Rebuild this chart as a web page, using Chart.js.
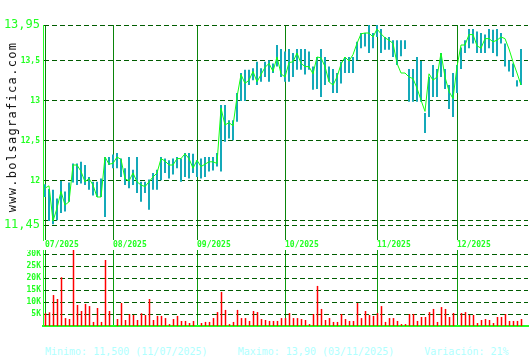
<!DOCTYPE html>
<html><head><meta charset="utf-8">
<script src="https://cdn.jsdelivr.net/npm/chart.js@4/dist/chart.umd.min.js"></script>
<style>
html,body{margin:0;padding:0;background:#fff;}
#wrap{position:relative;width:530px;height:360px;overflow:hidden;background:#fff;}
#price{position:absolute;left:0;top:0;}
#vol{position:absolute;left:0;top:250px;}
#site{position:absolute;left:-87.5px;top:118.7px;width:200px;height:16px;line-height:16px;text-align:center;transform:rotate(-90deg);font:12px 'DejaVu Sans Mono',monospace;letter-spacing:1.3px;color:#111;}
#info{position:absolute;left:45px;top:346px;font:10px 'DejaVu Sans Mono',monospace;color:#b0ffff;white-space:pre;line-height:12px;}
</style></head>
<body><div id="wrap">
<canvas id="price" width="530" height="250"></canvas>
<canvas id="vol" width="530" height="80"></canvas>
<div id="site">www.bolsagrafica.com</div>
<div id="info"></div>
</div>
<script>
const monthLabels = ['07/2025','08/2025','09/2025','10/2025','11/2025','12/2025'];
const monthStart = [0,17,38,60,83,103];
const priceTicks = [11.45,11.5,12,12.5,13,13.5,13.95];
const volTicks = [5000,10000,15000,20000,25000,30000];
const infoText = 'Minimo: 11,500 (11/07/2025)     Maximo: 13,90 (03/11/2025)     Variación: 21%';

const closes = [
11.91,11.94,11.50,11.66,11.87,11.70,11.74,12.20,12.20,12.12,
11.99,12.03,11.95,11.80,11.80,12.30,12.21,12.22,12.30,12.27,
12.03,12.00,12.10,11.99,11.95,11.93,11.99,12.05,12.10,12.28,
12.25,12.20,12.20,12.28,12.28,12.34,12.28,12.16,12.26,12.18,
12.21,12.24,12.24,12.22,12.91,12.70,12.73,12.69,13.05,13.33,
13.22,13.26,13.37,13.24,13.33,13.42,13.47,13.37,13.55,13.34,
13.30,13.48,13.49,13.60,13.47,13.43,13.43,13.34,13.55,13.54,
13.43,13.24,13.20,13.30,13.46,13.55,13.50,13.58,13.72,13.84,
13.85,13.85,13.80,13.90,13.84,13.79,13.76,13.72,13.47,13.35,
13.35,13.30,13.28,13.16,13.01,12.87,13.34,13.26,13.30,13.60,
13.30,13.12,13.03,13.43,13.70,13.70,13.83,13.83,13.69,13.66,
13.78,13.78,13.74,13.76,13.80,13.78,13.65,13.49,13.35,13.20];

const highs = [
11.96,11.90,11.89,11.78,12.00,11.87,11.98,12.22,12.22,12.24,
12.20,12.05,11.99,11.99,12.03,12.30,12.30,12.33,12.35,12.28,
12.16,12.30,12.14,12.30,11.99,11.99,12.02,12.10,12.14,12.30,
12.28,12.26,12.28,12.30,12.28,12.35,12.35,12.34,12.26,12.28,
12.30,12.30,12.30,12.35,12.95,12.95,12.76,12.76,13.10,13.35,
13.39,13.39,13.41,13.49,13.41,13.49,13.51,13.47,13.70,13.65,
13.62,13.65,13.60,13.65,13.65,13.65,13.62,13.43,13.55,13.65,
13.55,13.43,13.40,13.35,13.49,13.55,13.55,13.55,13.74,13.85,
13.85,13.95,13.85,13.95,13.90,13.80,13.80,13.76,13.76,13.76,
13.76,13.40,13.40,13.55,13.50,12.85,13.30,13.45,13.40,13.60,
13.40,13.20,13.35,13.45,13.67,13.76,13.90,13.90,13.87,13.85,
13.83,13.90,13.89,13.90,13.85,13.72,13.51,13.47,13.26,13.65];

const lows = [
11.80,11.50,11.46,11.51,11.60,11.62,11.74,11.98,11.95,11.97,
11.95,11.89,11.82,11.80,11.80,11.55,12.20,12.16,12.16,12.05,
11.95,11.91,11.95,11.85,11.74,11.85,11.64,11.89,11.89,12.01,
12.10,12.03,12.08,12.16,11.99,12.05,12.03,12.10,12.05,12.03,
12.05,12.12,12.13,12.18,12.12,12.49,12.53,12.51,12.74,13.00,
13.00,13.20,13.26,13.20,13.24,13.30,13.24,13.35,13.43,13.30,
13.24,13.24,13.30,13.39,13.39,13.33,13.39,13.14,13.15,13.05,
13.20,13.24,13.10,13.10,13.22,13.35,13.35,13.35,13.51,13.66,
13.68,13.60,13.66,13.80,13.60,13.64,13.64,13.55,13.45,13.56,
13.65,12.99,12.99,12.99,12.99,12.60,12.80,13.05,13.05,13.30,
13.15,12.90,12.80,13.10,13.40,13.60,13.66,13.72,13.60,13.60,
13.60,13.66,13.60,13.56,13.72,13.43,13.37,13.30,13.18,13.20];

const volumes = [
5300,5700,12900,11250,20300,3300,2900,31700,8750,6250,
9200,8300,1700,7500,1700,27500,6250,0,2900,9600,
2500,5000,4600,2500,5300,4600,11250,2500,4200,4200,
3300,800,2900,4200,2100,2100,1250,2100,0,1250,
1700,1700,3300,5800,14200,6700,800,1700,6700,3300,
3300,2100,6250,5800,2900,2500,2100,2100,2100,3300,
3300,5400,3300,3300,2900,2500,800,5000,16700,7100,
2500,3300,1700,1700,5000,2900,2100,2100,9600,3300,
6250,4600,4200,5400,8300,1700,3300,3300,2100,800,
800,5000,5000,2100,3750,3750,5800,7100,1700,7900,
7100,3750,5400,0,5400,5800,4600,4600,1250,2500,
2900,2500,1250,3750,3750,5000,2100,2100,2100,2900];

document.getElementById('info').textContent = infoText;

const MONO = "'DejaVu Sans Mono', monospace";
const LIME = '#22ff22';
const DASH_COL = '#005c00';
const MONTH_COL = '#0a840a';
const XMIN = -0.5, XMAX = 120.75;
const XMIN_V = -0.625, XMAX_V = 120.625;

const idx = closes.map((_, i) => i);

function monthTicks(scale) {
  scale.ticks = monthStart.map(v => ({ value: v }));
}
function monthLabel(value) {
  const k = monthStart.indexOf(value);
  return k >= 0 ? monthLabels[k] : '';
}
function priceLabel(v) {
  if (v === 11.5) return '';
  return String(v).replace('.', ',');
}
function noPad(s) {
  s.paddingTop = 0; s.paddingBottom = 0; s.paddingLeft = 0; s.paddingRight = 0;
}

new Chart(document.getElementById('price'), {
  type: 'bar',
  data: {
    datasets: [
      {
        type: 'line',
        data: idx.map(i => ({ x: i, y: closes[i] })),
        borderColor: '#11ff11',
        borderWidth: 1,
        pointRadius: 0,
        tension: 0,
        order: 0
      },
      {
        type: 'bar',
        data: idx.map(i => ({ x: i, y: [lows[i], highs[i]] })),
        backgroundColor: '#14a9b9',
        borderWidth: 0,
        inflateAmount: 0,
        barThickness: 2,
        order: 1
      }
    ]
  },
  options: {
    responsive: false,
    animation: false,
    devicePixelRatio: 1,
    layout: { padding: { top: 25, right: 2, bottom: 0, left: 0 } },
    plugins: { legend: { display: false }, tooltip: { enabled: false } },
    scales: {
      x: {
        type: 'linear',
        min: XMIN, max: XMAX,
        offset: false,
        afterBuildTicks: monthTicks,
        afterFit: s => { s.height = 10; noPad(s); },
        grid: { color: MONTH_COL, lineWidth: 1, drawTicks: false, offset: false },
        border: { display: false },
        ticks: {
          callback: monthLabel,
          align: 'start',
          maxRotation: 0, autoSkip: false,
          padding: 0,
          color: LIME,
          font: { family: MONO, size: 8, weight: 'bold' }
        }
      },
      y: {
        type: 'linear',
        min: 11.2625, max: 13.95,
        bounds: 'data',
        afterBuildTicks: s => { s.ticks = priceTicks.map(v => ({ value: v })); },
        afterFit: s => { s.width = 43; noPad(s); },
        grid: { color: DASH_COL, lineWidth: 1, drawTicks: false },
        border: { display: true, color: LIME, width: 1, dash: [5, 3] },
        ticks: {
          callback: priceLabel,
          padding: 3,
          color: LIME,
          autoSkip: false,
          font: ctx => {
            const v = ctx.tick ? ctx.tick.value : 0;
            const big = (v === 13.95 || v === 11.45);
            return big ? { family: MONO, size: 12, weight: 'normal' } : { family: MONO, size: 8, weight: 'bold' };
          }
        }
      }
    }
  }
});

new Chart(document.getElementById('vol'), {
  type: 'bar',
  data: {
    datasets: [{
      data: idx.map(i => ({ x: i, y: volumes[i] })),
      backgroundColor: '#ff0000',
      borderWidth: 0,
      inflateAmount: 0,
      barThickness: 1.5
    }]
  },
  options: {
    responsive: false,
    animation: false,
    devicePixelRatio: 1,
    layout: { padding: { top: 0, right: 2, bottom: 0, left: 0 } },
    plugins: { legend: { display: false }, tooltip: { enabled: false } },
    scales: {
      x: {
        type: 'linear',
        min: XMIN_V, max: XMAX_V,
        offset: false,
        afterBuildTicks: monthTicks,
        afterFit: s => { s.height = 4; noPad(s); },
        grid: { color: '#0c9a0c', lineWidth: 1, drawTicks: false, offset: false },
        border: { display: true, color: LIME, width: 2 },
        ticks: { display: false }
      },
      y: {
        type: 'linear',
        min: 0, max: 31667,
        bounds: 'data',
        afterBuildTicks: s => { s.ticks = volTicks.map(v => ({ value: v })); },
        afterFit: s => { s.width = 43; noPad(s); },
        grid: { color: DASH_COL, lineWidth: 1, drawTicks: false },
        border: { display: true, color: LIME, width: 1, dash: [5, 3] },
        ticks: {
          callback: v => (v / 1000) + 'K',
          padding: 2,
          color: LIME,
          autoSkip: false,
          font: { family: MONO, size: 8, weight: 'bold' }
        }
      }
    }
  }
});
</script>
</body></html>
